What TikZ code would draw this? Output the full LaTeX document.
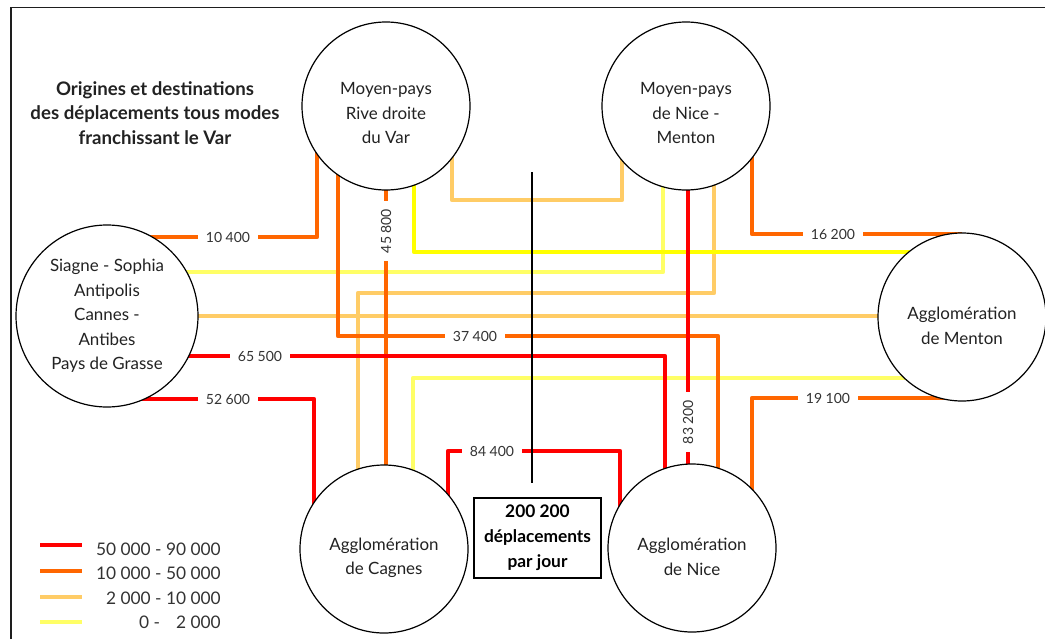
\documentclass[tikz,border=0pt]{standalone}
\usepackage{fontspec}
\setmainfont{Lato}
\usetikzlibrary{backgrounds}

\definecolor{cHi}{RGB}{255,0,0}
\definecolor{cMid}{RGB}{255,102,0}
\definecolor{cLow}{RGB}{255,204,102}
\definecolor{cMin}{RGB}{255,255,0}
\definecolor{cMinP}{RGB}{255,255,102}
\definecolor{txtgray}{RGB}{34,34,34}
\definecolor{labgray}{RGB}{51,51,51}

\tikzset{
  zone/.style={circle,draw=black,fill=white,line width=0.9pt,minimum size=126pt,inner sep=0pt},
  zonetxt/.style={align=center,inner sep=0pt,text=txtgray,font=\fontsize{12.7}{18.3}\selectfont},
  flow/.style={line width=3.5pt,line join=round},
  flowHi/.style={flow,draw=cHi},
  flowMid/.style={flow,draw=cMid},
  flowLow/.style={flow,draw=cLow},
  flowMin/.style={flow,draw=cMin},
  flowMinP/.style={flow,draw=cMinP},
  flowlab/.style={fill=white,inner xsep=6pt,inner ysep=1pt,text=labgray,font=\fontsize{10.5}{12}\selectfont},
  legtxt/.style={anchor=base east,inner sep=0pt,text=labgray,font=\fontsize{13}{15}\selectfont},
  ttl/.style={align=center,text=txtgray,font=\bfseries\fontsize{14}{18.4}\selectfont},
  totalbox/.style={draw=black,line width=1.5pt,fill=white,align=center,minimum width=95pt,minimum height=60pt,
    inner sep=1pt,text=black,font=\bfseries\fontsize{13}{18.75}\selectfont},
}

\begin{document}
\begin{tikzpicture}[x=0.75pt,y=0.75pt,yscale=-1,xscale=1]
\useasboundingbox (0,0) rectangle (1045,639);

%Frame
\draw [line width=1.2pt, color={rgb, 255:red, 30; green, 30; blue, 30 }] (11,639) -- (11,7.5) -- (1045,7.5) ;

% Text Node
\node[ttl] (titre) at (155,113) {Origines et destinations\\des déplacements tous modes\\franchissant le Var};

%Shape: Circle
\node[zone] (RD) at (386,106) {};
\node[zonetxt] (RDtxt) at (386,113) {Moyen-pays\\Rive droite\\du Var};
%Shape: Circle
\node[zone] (NM) at (686,106) {};
\node[zonetxt] (NMtxt) at (686,113) {Moyen-pays\\de Nice -\\Menton};
%Shape: Circle
\node[zone,minimum size=136.5pt] (SS) at (107,316) {};
\node[zonetxt] (SStxt) at (107,316) {Siagne - Sophia\\Antipolis\\Cannes -\\Antibes\\Pays de Grasse};
%Shape: Circle
\node[zone] (AM) at (962,317) {};
\node[zonetxt] (AMtxt) at (962,326) {Agglomération\\de Menton};
%Shape: Circle
\node[zone] (AC) at (384,549) {};
\node[zonetxt] (ACtxt) at (384,558) {Agglomération\\de Cagnes};
%Shape: Circle
\node[zone] (AN) at (692,548) {};
\node[zonetxt] (ANtxt) at (692,557) {Agglomération\\de Nice};

%Shape: Rectangle
\node[totalbox] (total) at (537.5,538) {200 200\\déplacements\\par jour};

\begin{pgfonlayer}{background}
%Lines 2 000 - 10 000
\draw[flowLow] (SS |- 0,316) -- (AM |- 0,316) ;
\draw[flowLow] (452,0 |- RD) |- (622,200) -- (622,0 |- NM) ;
\draw[flowLow] (714,0 |- NM) |- (358,293) -- (358,0 |- AC) ;
%Lines 0 - 2 000
\draw[flowMinP] (SS |- 0,272) -| (663,0 |- NM) ;
\draw[flowMinP] (AM |- 0,378) -| (413,0 |- AC) ;
\draw[flowMin] (414,0 |- RD) |- (AM |- 0,252) ;
%Lines 10 000 - 50 000
\draw[flowMid] (SS |- 0,237) -| (317,0 |- RD) ;
\draw[flowMid] (338,0 |- RD) |- (718,336) -- (718,0 |- AN) ;
\draw[flowMid] (386,0 |- RD) -- (386,0 |- AC) ;
\draw[flowMid] (752,0 |- NM) |- (AM |- 0,234) ;
\draw[flowMid] (AM |- 0,398) -| (752,0 |- AN) ;
%Lines 50 000 - 90 000
\draw[flowHi] (SS |- 0,356) -| (665,0 |- AN) ;
\draw[flowHi] (SS |- 0,399) -| (314,0 |- AC) ;
\draw[flowHi] (688,0 |- NM) -- (688,0 |- AN) ;
\draw[flowHi] (448,0 |- AC) |- (620,451) -- (620,0 |- AN) ;
\end{pgfonlayer}

% Text Node
\node[flowlab] (f104) at (228,237) {10 400};
\node[flowlab] (f655) at (260,356) {65 500};
\node[flowlab] (f526) at (228,399) {52 600};
\node[flowlab] (f374) at (475,336) {37 400};
\node[flowlab,rotate=90] (f458) at (386,231) {45 800};
\node[flowlab,rotate=90] (f832) at (688,422) {83 200};
\node[flowlab] (f162) at (833,234) {16 200};
\node[flowlab] (f191) at (828,398) {19 100};
\node[flowlab] (f844) at (492,451) {84 400};

%Straight Lines
\coordinate (varN) at (532,172);
\coordinate (varS) at (532,483);
\draw [line width=1.6pt] (varN) -- (varS) ;

%Legend
\draw[flowHi] (40,545) -- (82,545) ;
\draw[flowMid] (40,571) -- (82,571) ;
\draw[flowLow] (40,597) -- (82,597) ;
\draw[flowMinP] (40,622) -- (82,622) ;
\node[legtxt] (lg90) at (221,555) {50 000 - 90 000};
\node[legtxt] (lg50) at (221,579.5) {10 000 - 50 000};
\node[legtxt] (lg10) at (221,604) {2 000 - 10 000};
\node[legtxt] (lg2) at (221,628) {0 -\hspace{12pt}2 000};

\end{tikzpicture}
\end{document}
